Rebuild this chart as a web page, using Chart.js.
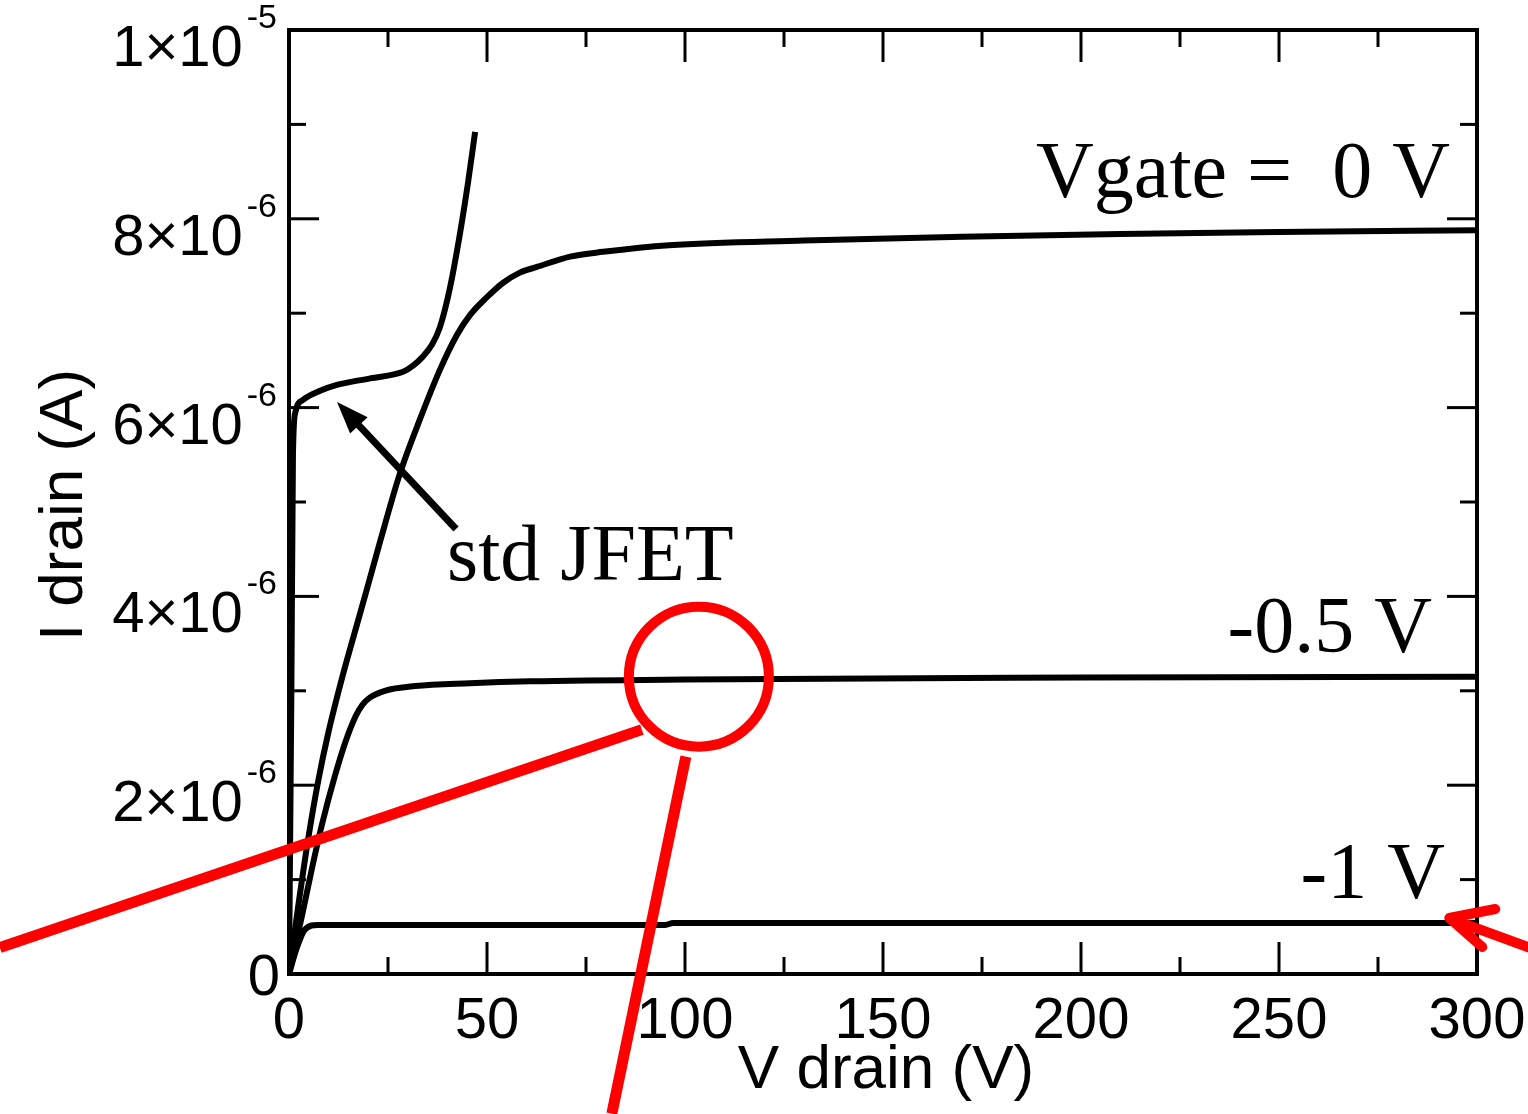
<!DOCTYPE html>
<html lang="en">
<head>
<meta charset="UTF-8">
<title>JFET I drain vs V drain</title>
<script src="https://cdn.jsdelivr.net/npm/chart.js"></script>
<style>
  html, body { margin: 0; padding: 0; background: #fff; }
  canvas { display: block; }
</style>
</head>
<body>
<canvas id="ivChart" width="1528" height="1114"></canvas>
<script>
// V drain in volts, I drain in units of 1e-6 A
const vg0V = [0, 2.3, 4.8, 7.4, 9.9, 13.3, 15.8, 19.5, 23, 28, 33.1, 38.1, 42.4, 45.7, 50, 54, 58.3, 62.6, 71, 79.3, 96, 130, 170, 210, 250, 300];
const vg0I = [0, 0.71, 1.42, 2.05, 2.55, 3.12, 3.50, 4.05, 4.58, 5.30, 5.88, 6.40, 6.77, 6.98, 7.17, 7.32, 7.43, 7.49, 7.60, 7.65, 7.72, 7.77, 7.81, 7.84, 7.86, 7.88];

const vgHalfV = [0, 3.3, 5.8, 8.3, 11.6, 14.1, 16.7, 18.5, 20.5, 24.2, 31.8, 45.7, 60.9, 100, 200, 300];
const vgHalfI = [0, 0.62, 1.12, 1.58, 2.10, 2.44, 2.72, 2.85, 2.93, 3.00, 3.05, 3.08, 3.10, 3.12, 3.14, 3.15];

const vg1V = [0, 2, 4, 7.3, 95, 97, 300];
const vg1I = [0, 0.28, 0.47, 0.52, 0.52, 0.54, 0.54];

const stdV = [0, 0.6, 1.0, 1.6, 3.5, 8, 12.1, 20.5, 28.8, 31.5, 33.8, 36, 38.1, 40.7, 43.2, 45.2, 47];
const stdI = [0, 3.0, 5.5, 5.95, 6.08, 6.18, 6.24, 6.31, 6.38, 6.45, 6.54, 6.66, 6.85, 7.28, 7.85, 8.38, 8.92];

const xMajorTicks = [0, 50, 100, 150, 200, 250, 300];
const xTickLabels = ['0', '50', '100', '150', '200', '250', '300'];
const xMinorTicks = [25, 75, 125, 175, 225, 275];
const yMajorTicks = [0, 2e-6, 4e-6, 6e-6, 8e-6, 1e-5];
const yTickMantissa = ['0', '2', '4', '6', '8', '1'];
const yTickExponent = ['', '-6', '-6', '-6', '-6', '-5'];
const yMinorTicks = [1e-6, 3e-6, 5e-6, 7e-6, 9e-6];

const xTitle = 'V drain (V)';
const yTitle = 'I drain (A)';
const curveLabels = ['Vgate =  0 V', '-0.5 V', '-1 V'];
const stdLabel = 'std JFET';

function toPoints(xs, ys) {
    return xs.map((v, i) => ({ x: v, y: ys[i] * 1e-6 }));
}

function line(ctx, x1, y1, x2, y2) {
    ctx.beginPath();
    ctx.moveTo(x1, y1);
    ctx.lineTo(x2, y2);
    ctx.stroke();
}

// frame, inward ticks on all four sides, tick labels, axis titles
const axesPlugin = {
    id: 'axesPlugin',
    afterDatasetsDraw(chart) {
        const { ctx, chartArea: a, scales: { x, y } } = chart;
        ctx.save();
        ctx.strokeStyle = '#000';
        ctx.fillStyle = '#000';
        ctx.lineWidth = 4;
        ctx.strokeRect(a.left, a.top, a.right - a.left, a.bottom - a.top);

        ctx.lineWidth = 3;
        xMajorTicks.forEach(v => {
            const px = x.getPixelForValue(v);
            line(ctx, px, a.bottom, px, a.bottom - 32);
            line(ctx, px, a.top, px, a.top + 32);
        });
        xMinorTicks.forEach(v => {
            const px = x.getPixelForValue(v);
            line(ctx, px, a.bottom, px, a.bottom - 17);
            line(ctx, px, a.top, px, a.top + 17);
        });
        yMajorTicks.forEach(v => {
            const py = y.getPixelForValue(v);
            line(ctx, a.left, py, a.left + 30, py);
            line(ctx, a.right, py, a.right - 30, py);
        });
        yMinorTicks.forEach(v => {
            const py = y.getPixelForValue(v);
            line(ctx, a.left, py, a.left + 17, py);
            line(ctx, a.right, py, a.right - 17, py);
        });

        // x tick labels
        ctx.font = '58px "Liberation Sans", Arial, sans-serif';
        ctx.textAlign = 'center';
        ctx.textBaseline = 'alphabetic';
        xMajorTicks.forEach((v, i) => {
            ctx.fillText(xTickLabels[i], x.getPixelForValue(v), a.bottom + 64);
        });

        // y tick labels: mantissa x 10 with a raised exponent
        const rightEdge = a.left - 12;
        yMajorTicks.forEach((v, i) => {
            const py = y.getPixelForValue(v);
            ctx.textAlign = 'right';
            if (!yTickExponent[i]) {
                ctx.font = '58px "Liberation Sans", Arial, sans-serif';
                ctx.fillText(yTickMantissa[i], rightEdge + 3, py + 21);
                return;
            }
            ctx.font = '34px "Liberation Sans", Arial, sans-serif';
            const ew = ctx.measureText(yTickExponent[i]).width;
            ctx.fillText(yTickExponent[i], rightEdge, py - 2);
            ctx.font = '58px "Liberation Sans", Arial, sans-serif';
            ctx.fillText(yTickMantissa[i] + '\u00d710', rightEdge - ew - 4, py + 36);
        });

        // axis titles
        ctx.font = '62px "Liberation Sans", Arial, sans-serif';
        ctx.textAlign = 'center';
        ctx.fillText(xTitle, (a.left + a.right) / 2 + 3, a.bottom + 114);
        ctx.save();
        ctx.translate(82, (a.top + a.bottom) / 2 + 3);
        ctx.rotate(-Math.PI / 2);
        ctx.fillText(yTitle, 0, 0);
        ctx.restore();
        ctx.restore();
    }
};

// curve labels, the std JFET arrow and the red markings
const notesPlugin = {
    id: 'notesPlugin',
    afterDraw(chart) {
        const { ctx, chartArea: a, scales: { x, y } } = chart;
        ctx.save();
        ctx.fillStyle = '#000';
        ctx.strokeStyle = '#000';
        ctx.font = '80px "Liberation Serif", "Times New Roman", serif';
        ctx.textBaseline = 'alphabetic';
        ctx.textAlign = 'right';
        ctx.fillText(curveLabels[0], a.right - 27, 197);
        ctx.fillText(curveLabels[1], a.right - 45, 652);
        ctx.fillText(curveLabels[2], a.right - 32, 898);
        ctx.textAlign = 'left';
        ctx.fillText(stdLabel, 447, 580);

        // black arrow pointing at the std JFET curve
        const tipX = 337, tipY = 402, tailX = 456, tailY = 529;
        const ang = Math.atan2(tipY - tailY, tipX - tailX);
        const c = Math.cos(ang), s = Math.sin(ang);
        ctx.lineWidth = 7;
        line(ctx, tailX, tailY, tipX - 20 * c, tipY - 20 * s);
        ctx.beginPath();
        ctx.moveTo(tipX, tipY);
        ctx.lineTo(tipX - 32 * c + 12 * s, tipY - 32 * s - 12 * c);
        ctx.lineTo(tipX - 32 * c - 12 * s, tipY - 32 * s + 12 * c);
        ctx.closePath();
        ctx.fill();

        // red circle on the -0.5 V curve and its two lines
        const cx = x.getPixelForValue(103.5);
        const cy = y.getPixelForValue(3.15e-6);
        ctx.strokeStyle = '#ff0000';
        ctx.lineWidth = 10;
        ctx.beginPath();
        ctx.arc(cx, cy, 70, 0, Math.PI * 2);
        ctx.stroke();
        ctx.lineWidth = 11;
        line(ctx, cx - 699, cy + 271, cx - 57, cy + 53);
        line(ctx, cx - 13, cy + 80, cx - 87, cy + 437);

        // red arrow at the end of the -1 V curve
        const ax = x.getPixelForValue(293), ay = y.getPixelForValue(0.54e-6) - 5;
        ctx.lineWidth = 10;
        ctx.lineCap = 'round';
        ctx.lineJoin = 'round';
        line(ctx, ax + 2, ay + 1, ax + 95, ay + 35);
        ctx.beginPath();
        ctx.moveTo(ax + 46, ay - 9);
        ctx.lineTo(ax, ay);
        ctx.lineTo(ax + 33, ay + 29);
        ctx.stroke();
        ctx.restore();
    }
};

const dataset = (label, pts) => ({
    label: label,
    data: pts,
    showLine: true,
    borderColor: '#000',
    borderWidth: 6,
    pointRadius: 0,
    fill: false,
    cubicInterpolationMode: 'monotone'
});

const ctx = document.getElementById('ivChart').getContext('2d');
new Chart(ctx, {
    type: 'scatter',
    data: {
        datasets: [
            dataset('Vgate = 0 V', toPoints(vg0V, vg0I)),
            dataset('Vgate = -0.5 V', toPoints(vgHalfV, vgHalfI)),
            dataset('Vgate = -1 V', toPoints(vg1V, vg1I)),
            dataset('std JFET', toPoints(stdV, stdI))
        ]
    },
    options: {
        responsive: false,
        devicePixelRatio: 1,
        animation: false,
        layout: { padding: { left: 289, right: 51, top: 30, bottom: 140 } },
        plugins: { legend: { display: false }, tooltip: { enabled: false } },
        scales: {
            x: { type: 'linear', min: 0, max: 300, display: false },
            y: { type: 'linear', min: 0, max: 1e-5, display: false }
        }
    },
    plugins: [axesPlugin, notesPlugin]
});
</script>
</body>
</html>
